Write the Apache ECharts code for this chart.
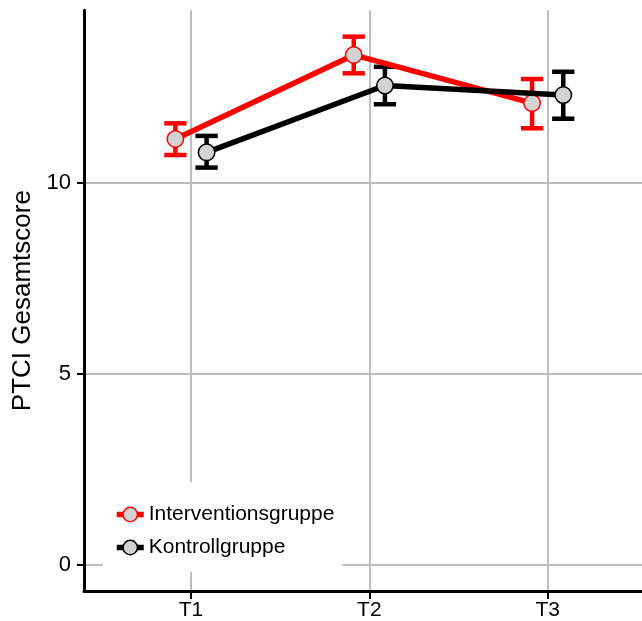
<!DOCTYPE html>
<html>
<head>
<meta charset="utf-8">
<script src="https://cdn.jsdelivr.net/npm/echarts@6/dist/echarts.min.js"></script>
<style>
html,body{margin:0;padding:0;background:#fff;}
#chart{width:642px;height:621px;}
</style>
</head>
<body>
<div id="chart"></div>
<script>
const categories = ['T1', 'T2', 'T3'];
const seriesNames = ['Interventionsgruppe', 'Kontrollgruppe'];
const interventionMean  = [11.15, 13.35, 12.09];
const interventionLower = [10.73, 12.87, 11.43];
const interventionUpper = [11.56, 13.83, 12.72];
const controlMean  = [10.80, 12.55, 12.30];
const controlLower = [10.40, 12.06, 11.68];
const controlUpper = [11.23, 13.04, 12.91];
const yTicks = [0, 5, 10];

const dodge = [-0.0875, 0.0875];
const capHalf = 0.0625;
const colors = ['#ff0000', '#000000'];
const FONT = 'Liberation Sans, Arial, sans-serif';

const groups = [
  {name: seriesNames[0], mean: interventionMean, lo: interventionLower, hi: interventionUpper},
  {name: seriesNames[1], mean: controlMean, lo: controlLower, hi: controlUpper}
];

const series = [];
groups.forEach(function (g, gi) {
  const errData = g.mean.map(function (m, i) { return [i + 1 + dodge[gi], g.lo[i], g.hi[i]]; });
  series.push({
    type: 'custom',
    name: 'err' + gi,
    z: 1,
    silent: true,
    data: errData,
    encode: {x: 0, y: [1, 2]},
    renderItem: function (params, api) {
      const x = api.value(0), lo = api.value(1), hi = api.value(2);
      const pLo = api.coord([x, lo]);
      const pHi = api.coord([x, hi]);
      const l = api.coord([x - capHalf, lo])[0];
      const r = api.coord([x + capHalf, lo])[0];
      const st = {stroke: colors[gi], lineWidth: 4.5, fill: null};
      return {
        type: 'group',
        children: [
          {type: 'line', shape: {x1: pLo[0], y1: pLo[1], x2: pHi[0], y2: pHi[1]}, style: st},
          {type: 'line', shape: {x1: l, y1: pLo[1], x2: r, y2: pLo[1]}, style: st},
          {type: 'line', shape: {x1: l, y1: pHi[1], x2: r, y2: pHi[1]}, style: st}
        ]
      };
    }
  });
});
groups.forEach(function (g, gi) {
  series.push({
    type: 'line',
    name: g.name,
    z: 2 + gi,
    symbol: 'circle',
    symbolSize: 16.5,
    showSymbol: true,
    data: g.mean.map(function (m, i) { return [i + 1 + dodge[gi], m]; }),
    lineStyle: {color: colors[gi], width: 5.5},
    itemStyle: {color: '#d3d3d3', borderColor: colors[gi], borderWidth: 1.5},
    emphasis: {disabled: true}
  });
});

const chart = echarts.init(document.getElementById('chart'), null, {renderer: 'canvas'});
chart.setOption({
  animation: false,
  backgroundColor: '#ffffff',
  textStyle: {fontFamily: FONT},
  grid: {left: 84, width: 558, top: 10.3, height: 581.1},
  legend: {
    orient: 'vertical',
    left: 103,
    top: 482,
    data: seriesNames,
    backgroundColor: '#ffffff',
    padding: [22, 8, 14, 11],
    itemWidth: 27,
    itemHeight: 18,
    itemGap: 12,
    selectedMode: false,
    lineStyle: {width: 5.5},
    itemStyle: {borderWidth: 1.5},
    textStyle: {fontSize: 21, color: '#000', fontFamily: FONT}
  },
  xAxis: {
    type: 'value',
    min: 0.4,
    max: 3.529,
    axisLine: {show: true, onZero: false, lineStyle: {color: '#000', width: 3}},
    axisTick: {show: true, length: 8, lineStyle: {color: '#000', width: 2}, customValues: [1, 2, 3]},
    axisLabel: {
      customValues: [1, 2, 3],
      formatter: function (v) { return categories[Math.round(v) - 1] || ''; },
      fontSize: 21, color: '#000', margin: 9, fontFamily: FONT
    },
    splitLine: {show: true, lineStyle: {color: '#bebebe', width: 2}}
  },
  yAxis: {
    type: 'value',
    min: -0.69,
    max: 14.52,
    name: 'PTCI Gesamtscore',
    nameLocation: 'middle',
    nameRotate: 90,
    nameGap: 47,
    nameTextStyle: {fontSize: 26, color: '#000', fontFamily: FONT},
    axisLine: {show: true, onZero: false, lineStyle: {color: '#000', width: 3}},
    axisTick: {show: true, length: 7, lineStyle: {color: '#000', width: 2}, customValues: yTicks},
    axisLabel: {customValues: yTicks, fontSize: 22, color: '#000', margin: 13, fontFamily: FONT},
    splitLine: {show: true, lineStyle: {color: '#bebebe', width: 2}}
  },
  series: series
});
</script>
</body>
</html>
